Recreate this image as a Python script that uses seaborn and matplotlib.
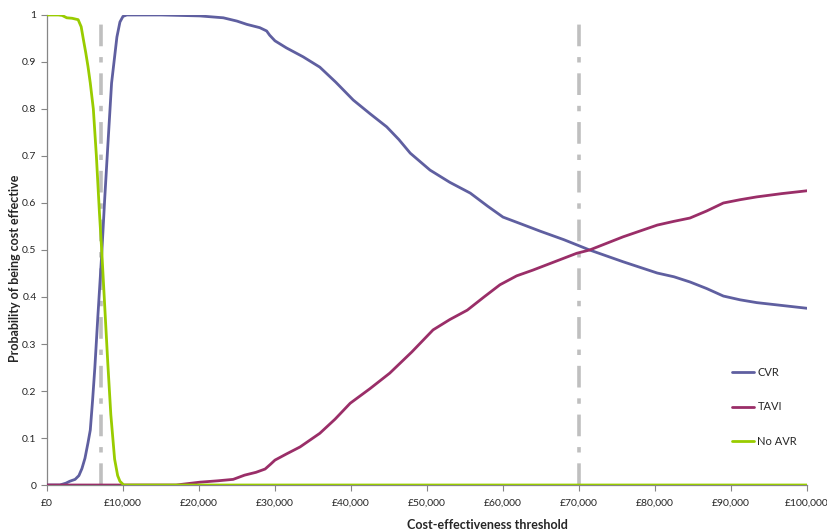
import matplotlib
matplotlib.use("Agg")
import matplotlib.pyplot as plt
import matplotlib.ticker as mticker
import pandas as pd
import seaborn as sns

# Willingness-to-pay thresholds (GBP) and probability of each option being cost effective
cvr_x = [0, 1700, 2500, 3000, 3700, 4200, 4600, 5000, 5400, 5700, 6000, 6300, 6700, 7200, 7600,
         8000, 8500, 9200, 9600, 10000, 10500, 15000, 20100, 23200, 25000, 26300, 28000,
         28900, 29300, 30000, 31500, 33700, 35900, 38000, 40300, 42500, 44700, 46300, 47800,
         50400, 53000, 55700, 58000, 60000, 62300, 64900, 68000, 71400, 75800, 80300, 82500,
         84600, 86800, 89000, 91200, 93400, 96700, 100000]
cvr_y = [0.0, 0.0, 0.004, 0.008, 0.012, 0.02, 0.035, 0.057, 0.09, 0.117, 0.18, 0.25, 0.36, 0.49,
         0.61, 0.72, 0.855, 0.953, 0.985, 0.997, 1.0, 1.0, 0.998, 0.994, 0.987, 0.98, 0.973,
         0.966, 0.957, 0.945, 0.93, 0.911, 0.889, 0.857, 0.819, 0.79, 0.762, 0.735, 0.706,
         0.670, 0.644, 0.621, 0.593, 0.570, 0.556, 0.540, 0.522, 0.50, 0.475, 0.451, 0.443,
         0.432, 0.418, 0.402, 0.394, 0.388, 0.382, 0.376]

tavi_x = [0, 10000, 17000, 20100, 22500, 24500, 26000, 27500, 28700, 29400, 30000, 31500,
          33300, 35900, 37900, 39900, 42500, 45100, 48000, 50800, 53000, 55300, 57500, 59600,
          61800, 63900, 66800, 69700, 71400, 75800, 80300, 82500, 84600, 86800, 89000, 91200,
          93400, 96700, 100000]
tavi_y = [0.0, 0.0, 0.0, 0.006, 0.009, 0.012, 0.021, 0.027, 0.034, 0.044, 0.053, 0.066,
          0.081, 0.11, 0.14, 0.174, 0.205, 0.238, 0.283, 0.33, 0.352, 0.372, 0.40, 0.426,
          0.445, 0.457, 0.475, 0.493, 0.50, 0.528, 0.553, 0.561, 0.568, 0.583, 0.60, 0.607,
          0.613, 0.62, 0.626]

noavr_x = [0, 1500, 2000, 2600, 3300, 4100, 4500, 4800, 5100, 5400, 5700, 6100, 6500, 6900,
           7200, 7600, 8000, 8400, 8900, 9300, 9600, 10100, 100000]
noavr_y = [1.0, 1.0, 0.999, 0.994, 0.993, 0.99, 0.975, 0.947, 0.92, 0.89, 0.855, 0.80, 0.70,
           0.58, 0.50, 0.38, 0.26, 0.15, 0.055, 0.02, 0.008, 0.0, 0.0]

thresholds = [7100, 70000]
x_ticks = list(range(0, 100001, 10000))
y_ticks = [round(v * 0.1, 1) for v in range(11)]

series = ["CVR", "TAVI", "No AVR"]
palette = {"CVR": "#5F5FA0", "TAVI": "#9A2E68", "No AVR": "#99CC00"}

df = pd.concat([
    pd.DataFrame({"threshold": cvr_x, "prob": cvr_y, "option": "CVR"}),
    pd.DataFrame({"threshold": tavi_x, "prob": tavi_y, "option": "TAVI"}),
    pd.DataFrame({"threshold": noavr_x, "prob": noavr_y, "option": "No AVR"}),
], ignore_index=True)

sns.set_style("white")
plt.rcParams["font.family"] = ["Lato", "DejaVu Sans"]

fig = plt.figure(figsize=(8.27, 5.31), dpi=100)
ax = fig.add_axes([0.0568, 0.0866, 0.9190, 0.8852])

# Reference thresholds as grey dash-dot verticals
for t in thresholds:
    ax.plot([t, t], [0, 0.985], color="#BFBFBF", lw=2.6,
            dashes=(6, 3, 1.5, 3), zorder=1, solid_capstyle="butt")

sns.lineplot(data=df, x="threshold", y="prob", hue="option", hue_order=series,
             palette=palette, lw=2.0, ax=ax, zorder=3, legend=True)
for line in ax.get_lines():
    line.set_solid_joinstyle("round")

ax.set_xlim(0, 100000)
ax.set_ylim(0, 1)
ax.set_xticks(x_ticks)
ax.set_yticks(y_ticks)
ax.xaxis.set_major_formatter(mticker.FuncFormatter(lambda v, p: f"£{int(v):,}"))
ax.yaxis.set_major_formatter(mticker.FuncFormatter(lambda v, p: f"{v:g}"))
ax.tick_params(axis="both", labelsize=7.5, colors="#868686", labelcolor="#262626",
               length=4, width=0.8, direction="out", left=True, bottom=True)
ax.tick_params(axis="x", pad=6)

for side in ["top", "right"]:
    ax.spines[side].set_visible(False)
for side in ["left", "bottom"]:
    ax.spines[side].set_color("#868686")
    ax.spines[side].set_linewidth(0.9)

ax.set_xlabel("Cost-effectiveness threshold", fontsize=9, fontweight="bold")
ax.xaxis.set_label_coords(0.579, -0.073)
ax.set_ylabel("Probability of being cost effective", fontsize=9, fontweight="bold")
ax.yaxis.set_label_coords(-0.034, 0.46)

leg = ax.legend(loc="lower right", bbox_to_anchor=(1.0, 0.06), frameon=False, fontsize=8,
                handlelength=2.0, handletextpad=0.3, labelspacing=2.1)
for line in leg.get_lines():
    line.set_linewidth(2.0)

fig.savefig("out.png", dpi=100)
